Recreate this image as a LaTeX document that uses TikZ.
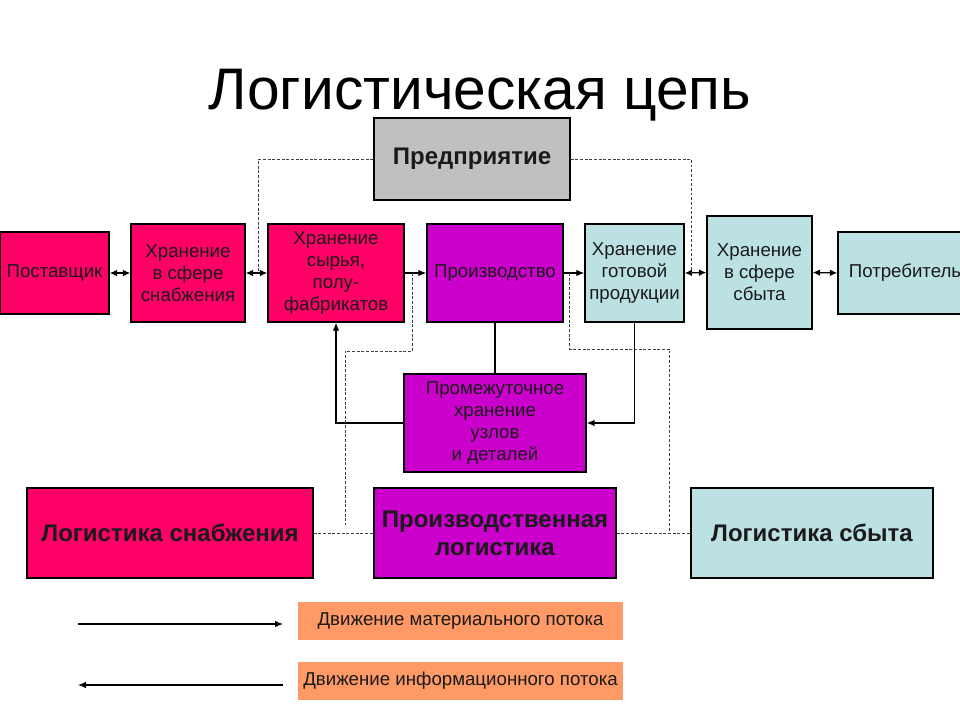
\documentclass[tikz,border=0pt]{standalone}
\usepackage{fontspec}
\setmainfont{Liberation Sans}
\usetikzlibrary{arrows.meta}
\definecolor{crim}{HTML}{FF0066}
\definecolor{mag}{HTML}{CC00CC}
\definecolor{lblue}{HTML}{BCE1E3}
\definecolor{grbox}{HTML}{C0C0C0}
\definecolor{orgbox}{HTML}{FF9966}
\definecolor{txt}{HTML}{1A1A1A}
\begin{document}
\begin{tikzpicture}[x=0.75pt,y=-0.75pt,
  sz/.style 2 args={minimum width=#1*0.75pt, minimum height=#2*0.75pt},
  box/.style={draw=black, line width=1.1pt, inner sep=0pt, align=center,
    font=\fontsize{14}{16.5}\selectfont, text=txt},
  bigbox/.style={box, font=\fontsize{18}{21}\selectfont\bfseries},
  legbox/.style={draw=none, fill=orgbox, inner sep=0pt, align=center,
    font=\fontsize{14}{16}\selectfont, text=txt},
  mat/.style={line width=0.9pt, -{Latex[length=6pt,width=5pt]}},
  plain/.style={line width=0.9pt},
  both/.style={line width=0.9pt, {Latex[length=5.5pt,width=5pt]}-{Latex[length=5.5pt,width=5pt]}},
  info/.style={line width=0.7pt, draw=black!75, dash pattern=on 2.2pt off 1.3pt}
]
\useasboundingbox (0,0) rectangle (960,720);

\node[font=\fontsize{44}{50}\selectfont, text=black] (title) at (480,95) {Логистическая цепь};

\node[box, fill=grbox, font=\fontsize{18}{21}\selectfont\bfseries, sz={196}{82}] (pred) at (472,159) {Предприятие};

\node[box, fill=crim, sz={109}{82}] (post) at (54.5,273) {Поставщик};
\node[box, fill=crim, sz={114}{98}] (snab) at (188,273) {Хранение\\в сфере\\снабжения};
\node[box, fill=crim, sz={136}{98}] (syr) at (336,273) {Хранение\\сырья,\\полу-\\фабрикатов};
\node[box, fill=mag, sz={136}{98}] (proiz) at (495,273) {Производство};
\node[box, fill=lblue, sz={99}{98}] (got) at (634.5,273) {Хранение\\готовой\\продукции};
\node[box, fill=lblue, sz={105}{113}] (sbyt) at (759.5,272.5) {Хранение\\в сфере\\сбыта};
\node[box, fill=lblue, sz={134}{82}] (potr) at (905,273) {Потребитель};

\node[box, fill=mag, sz={182}{98}] (prom) at (495,423) {Промежуточное\\хранение\\узлов\\и деталей};

\node[bigbox, fill=crim, sz={286}{90}] (lsnab) at (170,533) {Логистика снабжения};
\node[bigbox, fill=mag, sz={242}{90}] (lprod) at (495,533) {Производственная\\логистика};
\node[bigbox, fill=lblue, sz={242}{90}] (lsbyt) at (812,533) {Логистика сбыта};

\node[legbox, sz={325}{38}] (leg1) at (460.5,621) {Движение материального потока};
\node[legbox, sz={325}{38}] (leg2) at (460.5,681) {Движение информационного потока};

% material flow arrows
\draw[both] (post.east) -- (snab.west);
\draw[both] (snab.east) -- coordinate[pos=0.6] (m1) (syr.west);
\draw[mat] (syr.east) -- coordinate[pos=0.35] (m3) (proiz.west);
\draw[mat] (proiz.east) -- coordinate[pos=0.3] (m4) (got.west);
\draw[both] (got.east) -- coordinate[pos=0.3] (m2) (sbyt.west);
\draw[both] (sbyt.east) -- (potr.west);

\draw[plain] (proiz.south) -- (prom.north);
\draw[mat] (prom.west) -| (syr.south);
\draw[mat] (got.south) |- (prom.east);

% information flow
\draw[info] (pred.west) -| (m1);
\draw[info] (pred.east) -| (m2);
\draw[info] (lsnab.east) -- (lprod.west);
\draw[info] (lprod.east) -- coordinate[pos=0.72] (m5) (lsbyt.west);
\coordinate (e1) at (345,525);
\draw[info] (m3) -- (m3 |- 0,351) -| (e1);
\draw[info] (m4) -- (m4 |- 0,349) -| (m5);

% legend
\coordinate (la) at (78,624);
\coordinate (lb) at (283,624);
\coordinate (lc) at (78,685);
\coordinate (ld) at (283,685);
\draw[mat] (la) -- (lb);
\draw[mat] (ld) -- (lc);
\end{tikzpicture}
\end{document}
